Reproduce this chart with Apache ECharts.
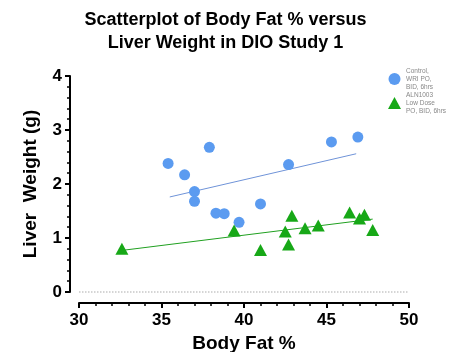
<!DOCTYPE html>
<html>
<head>
<meta charset="utf-8">
<script src="https://cdn.jsdelivr.net/npm/echarts@6/dist/echarts.min.js"></script>
<style>
  html, body { margin: 0; padding: 0; background: #fff; }
  #chart { width: 451px; height: 352px; }
</style>
</head>
<body>
<div id="chart"></div>
<script>
// Control, WRI PO, BID, 6hrs : [body fat %, liver weight g]
const controlPoints = [
  [35.4, 2.38], [36.4, 2.17], [37.0, 1.86], [37.0, 1.68], [37.9, 2.68],
  [38.3, 1.46], [38.8, 1.45], [39.7, 1.29], [41.0, 1.63], [42.7, 2.36],
  [45.3, 2.78], [46.9, 2.87]
]
// ALN1003 Low Dose PO, BID, 6hrs
const alnPoints = [
  [32.6, 0.80], [39.4, 1.14], [41.0, 0.78], [42.5, 1.12], [42.7, 0.88],
  [42.9, 1.41], [43.7, 1.18], [44.5, 1.23], [46.4, 1.47], [47.0, 1.36],
  [47.3, 1.43], [47.8, 1.15]
]
// fitted lines (end points)
const controlFit = [[35.5, 1.76], [46.8, 2.56]]
const alnFit = [[32.6, 0.77], [47.8, 1.35]]

const xTicks = [30, 35, 40, 45, 50]
const yTicks = [0, 1, 2, 3, 4]

const seriesNames = ['Control,\nWRI PO,\nBID, 6hrs', 'ALN1003\nLow Dose\nPO, BID, 6hrs']
const font = 'Liberation Sans, Arial, sans-serif'

const chart = echarts.init(document.getElementById('chart'))
const option = {
  animation: false,
  title: {
    text: 'Scatterplot of Body Fat % versus\nLiver Weight in DIO Study 1',
    left: 'center',
    top: 9,
    padding: 0,
    textStyle: {
      fontFamily: font,
      fontSize: 18,
      fontWeight: 'bold',
      color: '#000',
      lineHeight: 23
    }
  },
  legend: {
    orient: 'vertical',
    left: 388,
    top: 67,
    padding: 0,
    itemWidth: 13,
    itemHeight: 12,
    itemGap: 0,
    data: seriesNames,
    textStyle: {
      fontFamily: font,
      fontSize: 6.5,
      color: '#888',
      lineHeight: 8
    }
  },
  grid: {
    left: 79,
    right: 42,
    top: 76,
    bottom: 60,
    outerBoundsMode: 'none'
  },
  xAxis: {
    type: 'value',
    min: xTicks[0],
    max: xTicks[xTicks.length - 1],
    interval: 5,
    offset: 11,
    name: 'Body Fat %',
    nameLocation: 'middle',
    nameGap: 30,
    nameTextStyle: { fontFamily: font, fontSize: 19, fontWeight: 'bold', color: '#000' },
    axisLine: { onZero: false, lineStyle: { color: '#000', width: 2 } },
    axisTick: { show: true, length: 5, lineStyle: { color: '#000', width: 2 } },
    minorTick: { show: true, splitNumber: 5, length: 3, lineStyle: { color: '#000', width: 1.5 } },
    axisLabel: {
      margin: 9,
      fontFamily: font,
      fontSize: 17,
      fontWeight: 'bold',
      color: '#000'
    },
    splitLine: { show: false }
  },
  yAxis: {
    type: 'value',
    min: yTicks[0],
    max: yTicks[yTicks.length - 1],
    interval: 1,
    offset: 9,
    name: 'Liver  Weight (g)',
    nameLocation: 'middle',
    nameGap: 30,
    nameTextStyle: { fontFamily: font, fontSize: 19, fontWeight: 'bold', color: '#000' },
    axisLine: { show: true, onZero: false, lineStyle: { color: '#000', width: 2 } },
    axisTick: { show: true, length: 5, lineStyle: { color: '#000', width: 2 } },
    minorTick: { show: true, splitNumber: 5, length: 3, lineStyle: { color: '#000', width: 1.5 } },
    axisLabel: {
      margin: 8,
      fontFamily: font,
      fontSize: 17,
      fontWeight: 'bold',
      color: '#000'
    },
    splitLine: { show: false }
  },
  series: [
    {
      name: seriesNames[0],
      type: 'scatter',
      symbol: 'circle',
      symbolSize: 11,
      itemStyle: { color: '#5b9bf0', opacity: 1 },
      data: controlPoints,
      markLine: {
        silent: true,
        symbol: 'none',
        label: { show: false },
        lineStyle: { color: '#c8c8c8', type: 'dotted', width: 1.5 },
        data: [{ yAxis: 0 }]
      },
      z: 3
    },
    {
      name: seriesNames[1],
      type: 'scatter',
      symbol: 'triangle',
      symbolSize: [13, 12],
      itemStyle: { color: '#17a817', opacity: 1 },
      data: alnPoints,
      z: 3
    },
    {
      type: 'line',
      data: controlFit,
      symbol: 'none',
      lineStyle: { color: '#6f93d8', width: 1 },
      z: 2
    },
    {
      type: 'line',
      data: alnFit,
      symbol: 'none',
      lineStyle: { color: '#20a020', width: 1 },
      z: 2
    }
  ]
}
chart.setOption(option)
</script>
</body>
</html>
